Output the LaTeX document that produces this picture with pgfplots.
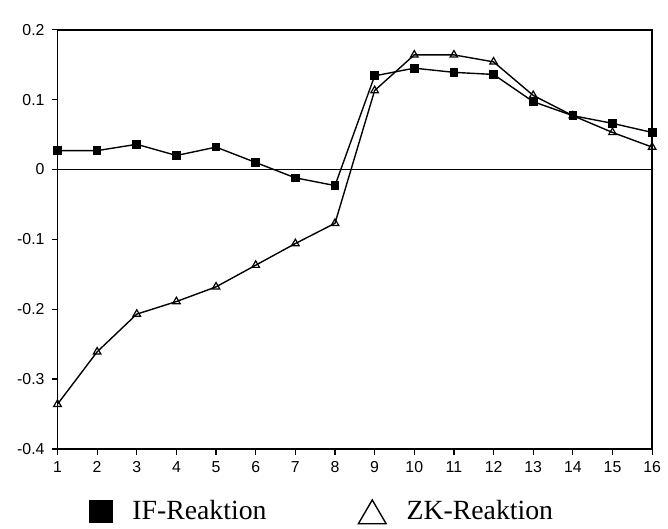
\documentclass[border=0pt]{standalone}
\usepackage{fontspec}
\setmainfont{Liberation Serif}
\setsansfont{Liberation Sans}
\usepackage{pgfplots}
\pgfplotsset{compat=1.18}
\begin{document}
\begin{tikzpicture}
\useasboundingbox (-29pt,-40.25pt) rectangle (308pt,226.5pt);
\begin{axis}[
  at={(0pt,0pt)}, anchor=south west,
  scale only axis, width=300pt, height=211.5pt,
  xmin=1, xmax=16, ymin=-0.4, ymax=0.2,
  xtick={1,...,16},
  xticklabels={1,2,3,4,5,6,7,8,9,10,11,12,13,14,15,16},
  ytick={-0.4,-0.3,-0.2,-0.1,0,0.1,0.2},
  yticklabels={-0.4,-0.3,-0.2,-0.1,0,0.1,0.2},
  /pgf/number format/assume math mode=true,
  xtick pos=lower, ytick pos=left,
  tick align=outside, major tick length=3pt,
  every tick/.style={black, line width=0.6pt},
  axis line style={line width=0.9pt},
  tick label style={font=\fontsize{8}{9}\selectfont\sffamily},
  legend style={at={(axis description cs:0.053,-0.15)}, anchor=west,
    draw=none, fill=none, font=\fontsize{14}{16}\selectfont,
    legend columns=2, inner sep=0pt,
    /tikz/every odd column/.append style={column sep=8pt},
    /tikz/every even column/.append style={column sep=44pt}},
  clip=false,
]
\addplot[black, line width=0.5pt, forget plot] coordinates {(1,0) (16,0)};
\addplot[black, line width=0.7pt, mark=square*, mark size=1.85pt,
  legend image code/.code={\fill[black] (0pt,-5.5pt) rectangle (11pt,5.5pt);}]
coordinates {
(1,0.027) (2,0.027) (3,0.036) (4,0.020) (5,0.032) (6,0.010) (7,-0.012) (8,-0.023)
(9,0.134) (10,0.145) (11,0.139) (12,0.136) (13,0.097) (14,0.077) (15,0.066) (16,0.053)};
\addlegendentry{IF-Reaktion}
\addplot[black, line width=0.7pt, mark=triangle, mark size=2.2pt, mark options={fill=white, line width=0.6pt},
  legend image code/.code={\draw[black, line width=0.7pt] (0pt,-6pt) -- (14pt,-6pt) -- (7pt,6pt) -- cycle;}]
coordinates {
(1,-0.336) (2,-0.261) (3,-0.207) (4,-0.189) (5,-0.168) (6,-0.137) (7,-0.106) (8,-0.077)
(9,0.113) (10,0.164) (11,0.164) (12,0.154) (13,0.106) (14,0.077) (15,0.053) (16,0.032)};
\addlegendentry{ZK-Reaktion}
\end{axis}
\end{tikzpicture}
\end{document}
